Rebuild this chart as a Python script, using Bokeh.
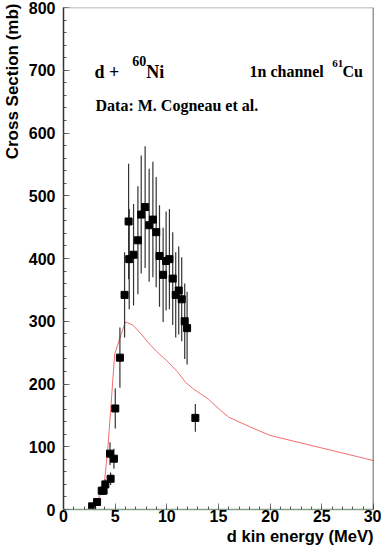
from bokeh.plotting import figure
from bokeh.models import Range1d, SingleIntervalTicker, Label, Span, Title
from bokeh.embed import file_html
from bokeh.resources import INLINE

# Experimental data (M. Cogneau et al.)
energy = [2.77, 3.25, 3.70, 3.88, 4.05, 4.56, 4.50, 4.88, 5.01, 5.46, 5.91, 6.30,
          6.36, 6.78, 7.20, 7.52, 7.90, 8.29, 8.65, 8.97, 9.29, 9.64, 9.93, 10.25,
          10.57, 10.86, 11.15, 11.44, 11.73, 11.96, 12.76]
xsec = [5, 12, 30, 30, 40, 49, 89, 81, 161, 242, 342, 459,
        399, 406, 429, 470, 482, 453, 462, 442, 404, 374, 396, 399,
        368, 342, 349, 335, 300, 289, 146]
xsec_err = [1, 2, 6, 6, 8, 10, 18, 16, 32, 48, 68, 92,
            80, 81, 86, 94, 97, 90, 92, 88, 81, 75, 79, 80,
            74, 68, 70, 67, 60, 58, 22]

# Calculation (red curve)
calc_energy = [2.9, 3.5, 4.0, 4.3, 4.55, 4.95, 5.45, 6.0, 6.7, 7.5, 8.2, 9.0, 10.0,
               11.0, 11.8, 12.5, 14.0, 15.2, 16.0, 18.0, 20.0, 25.0, 30.0]
calc_xsec = [0, 22, 50, 100, 155, 247, 273, 299, 294, 280, 266, 252, 237,
             220, 203, 193, 176, 158, 147, 132, 118, 98, 78]

p = figure(width=381, height=545, x_range=Range1d(0, 30), y_range=Range1d(0, 800),
           output_backend="svg", toolbar_location=None,
           min_border_left=62, min_border_right=8, min_border_top=7, min_border_bottom=36)
p.grid.visible = False
p.outline_line_color = None
p.background_fill_color = "white"
p.border_fill_color = "white"

# frame edges
p.add_layout(Span(location=800, dimension="width", line_color="#a0a0a0", line_width=1.5))
p.add_layout(Span(location=30, dimension="height", line_color="#333333", line_width=1.5))

# calculation curve
p.line(calc_energy, calc_xsec, line_color="#f26d6d", line_width=1)

# error bars
lo = [v - e for v, e in zip(xsec, xsec_err)]
hi = [v + e for v, e in zip(xsec, xsec_err)]
p.segment(x0=energy, y0=lo, x1=energy, y1=hi, line_color="#333333", line_width=1.2)
p.scatter(energy, xsec, marker="square", size=7, color="black")

# axes
for ax in (p.xaxis[0], p.yaxis[0]):
    ax.major_tick_in = 6
    ax.major_tick_out = 0
    ax.minor_tick_in = 3
    ax.minor_tick_out = 0
    ax.major_tick_line_color = "#777777"
    ax.minor_tick_line_color = "#555555"
    ax.major_label_text_font = "Liberation Sans"
    ax.major_label_text_font_style = "bold"
    ax.major_label_text_font_size = "16px"
    ax.major_label_text_color = "black"
p.xaxis.ticker = SingleIntervalTicker(interval=5, num_minor_ticks=5)
p.yaxis.ticker = SingleIntervalTicker(interval=100, num_minor_ticks=5)
p.xaxis.axis_line_color = "#86a086"
p.xaxis.axis_line_width = 1.5
p.yaxis.axis_line_color = "#333333"
p.yaxis.axis_line_width = 1.5
p.xaxis.major_label_standoff = 0
p.yaxis.major_label_standoff = 8

# axis titles (as side titles so they are aligned to the far end)
p.add_layout(Title(text="d kin energy (MeV)", align="right", text_font="Liberation Sans",
                   text_font_style="bold", text_font_size="16.5px", text_color="black",
                   standoff=0, offset=0), "below")
p.add_layout(Title(text="Cross Section (mb)", align="right", vertical_align="top",
                   text_font="Liberation Sans",
                   text_font_style="bold", text_font_size="17px", text_color="black",
                   standoff=4, offset=-4), "left")

# annotations inside the frame
serif = "Liberation Serif"
def lab(x, y, t, size):
    p.add_layout(Label(x=x, y=y, text=t, text_font=serif, text_font_style="bold",
                       text_font_size=size, text_align="left",
                       text_baseline="alphabetic", text_color="black"))

lab(3.0, 698, "d +", "18px")
lab(6.65, 714, "60", "14px")
lab(8.0, 698, "Ni", "18px")
lab(18.0, 698, "1n channel", "16px")
lab(26.0, 711, "61", "11px")
lab(27.0, 698, "Cu", "16px")
lab(3.1, 644, "Data: M. Cogneau et al.", "16px")

open("out.html", "w").write(file_html(p, INLINE))
